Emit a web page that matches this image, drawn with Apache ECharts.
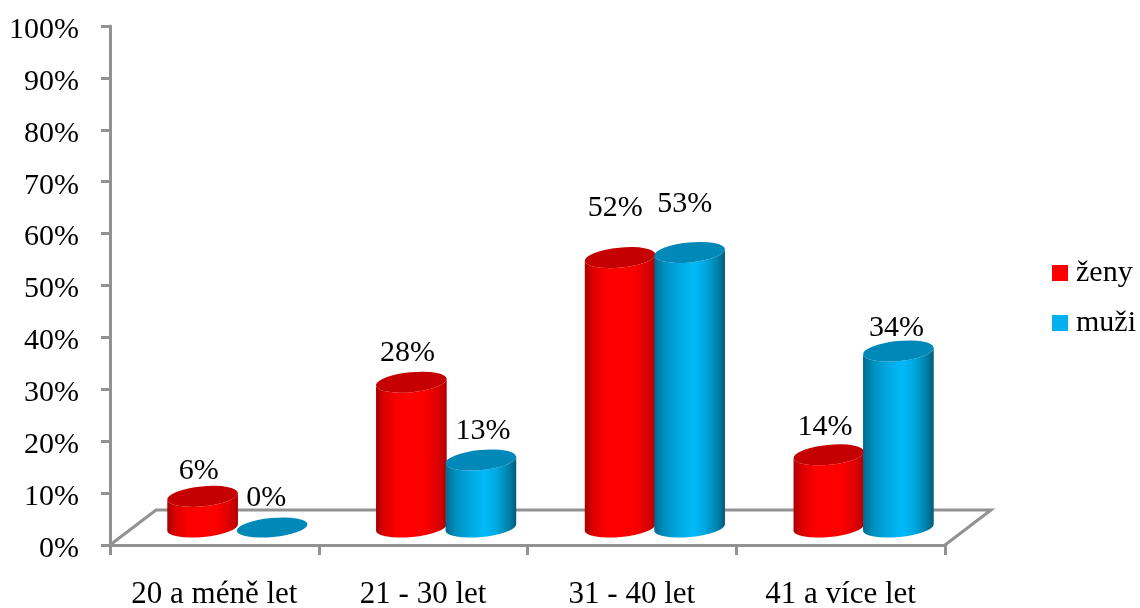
<!DOCTYPE html>
<html>
<head>
<meta charset="utf-8">
<style>html,body{margin:0;padding:0;background:#fff}#chart{width:1140px;height:608px}</style>
<script src="https://cdn.jsdelivr.net/npm/echarts@6/dist/echarts.min.js"></script>
</head>
<body>
<div id="chart"></div>
<script>
// Age groups of women and men, drawn as cylinders standing on a tilted floor.
const categories = ['20 a méně let', '21 - 30 let', '31 - 40 let', '41 a více let'];
const zeny = [6, 28, 52, 14];
const muzi = [0, 13, 53, 34];

// Hand placement of each value label relative to its cylinder top: [dx, dy].
const zenyLabelNudge = [[-4, -25], [-4, -29], [-5, -49], [-4, -28]];
const muziLabelNudge = [[-6, -29], [2, -29], [-5, -48], [-2, -23]];

const FONT = '"Liberation Serif", "Times New Roman", serif';
const AXIS_GREY = '#929292';
const AXIS_WIDTH = 3;
const DEPTH_X = 46, DEPTH_Y = -35;      // floor depth in pixels
const RX = 35.5, TILT = -5.5;           // cylinder cross-section ellipse
const RY_TOP = 10, RY_BASE = 9.5;       // the lid reads a little rounder than the foot
const BAR_SHIFT = 34.75;                // distance of a cylinder from the band centre

function gradient(stops) {
  return new echarts.graphic.LinearGradient(0, 0, 1, 0,
    stops.map(([offset, color]) => ({ offset, color })));
}

const redBody = gradient([[0, '#a80000'], [0.12, '#dc0000'], [0.3, '#fb0000'], [0.45, '#ff0000'], [0.7, '#fb0000'], [0.9, '#d60000'], [1, '#b00000']]);
const blueBody = gradient([[0, '#006a90'], [0.15, '#0090c0'], [0.35, '#00a8e2'], [0.55, '#00bafa'], [0.72, '#00a8e0'], [0.9, '#007ea8'], [1, '#005a7a']]);

function cylinderItem(labels, side, bodyFill, topFill) {
  return function (params, api) {
    const idx = params.dataIndex;
    const value = api.value(1);
    const top = api.coord([api.value(0), value]);
    const base = api.coord([api.value(0), 0]);
    const cx = top[0] + DEPTH_X / 2 + side * BAR_SHIFT;
    const yTop = top[1] + DEPTH_Y / 2;
    const yBase = base[1] + DEPTH_Y / 2;
    const t = TILT * Math.PI / 180;
    const ex = RX * Math.cos(t), ey = RX * Math.sin(t);
    const lidRy = value > 0 ? RY_TOP : RY_BASE;
    const lid = `M${cx - ex} ${yTop - ey}A${RX} ${lidRy} ${TILT} 1 1 ${cx + ex} ${yTop + ey}` +
      `A${RX} ${lidRy} ${TILT} 1 1 ${cx - ex} ${yTop - ey}Z`;
    const children = [];
    if (value > 0) {
      children.push({
        type: 'path',
        shape: {
          pathData:
            `M${cx - ex} ${yTop - ey}L${cx - ex} ${yBase - ey}` +
            `A${RX} ${RY_BASE} ${TILT} 0 0 ${cx + ex} ${yBase + ey}` +
            `L${cx + ex} ${yTop + ey}` +
            `A${RX} ${lidRy} ${TILT} 0 1 ${cx - ex} ${yTop - ey}Z`
        },
        style: { fill: bodyFill }
      });
    }
    children.push({ type: 'path', shape: { pathData: lid }, style: { fill: topFill } });
    children.push({
      type: 'text',
      z2: 10,
      style: {
        text: value + '%',
        x: cx + labels[idx][0],
        y: yTop + labels[idx][1],
        align: 'center',
        verticalAlign: 'middle',
        fill: '#000',
        font: '30px ' + FONT
      }
    });
    return { type: 'group', children };
  };
}

function floorItem(params) {
  const c = params.coordSys;
  const x0 = c.x, x1 = c.x + c.width, y = c.y + c.height;
  return {
    type: 'polyline',
    shape: { points: [[x0, y], [x0 + DEPTH_X, y + DEPTH_Y], [x1 + DEPTH_X, y + DEPTH_Y], [x1, y]] },
    style: { fill: null, stroke: AXIS_GREY, lineWidth: AXIS_WIDTH }
  };
}

const chart = echarts.init(document.getElementById('chart'), null, { renderer: 'canvas' });
chart.setOption({
  animation: false,
  backgroundColor: '#fff',
  textStyle: { fontFamily: FONT },
  grid: { left: 110, top: 26, width: 835, height: 519, containLabel: false, outerBoundsMode: 'none' },
  legend: {
    data: ['ženy', 'muži'],
    orient: 'vertical',
    left: 1052,
    top: 258,
    padding: 0,
    icon: 'rect',
    itemWidth: 16,
    itemHeight: 16,
    itemGap: 20,
    textStyle: { fontFamily: FONT, fontSize: 30, color: '#000', padding: [2, 0, 0, 3] },
    selectedMode: false
  },
  xAxis: {
    type: 'category',
    data: categories,
    axisLine: { lineStyle: { color: AXIS_GREY, width: AXIS_WIDTH } },
    axisTick: { show: true, length: 10, lineStyle: { color: AXIS_GREY, width: AXIS_WIDTH } },
    axisLabel: { color: '#000', fontFamily: FONT, fontSize: 31, margin: 34, interval: 0 }
  },
  yAxis: {
    type: 'value',
    min: 0,
    max: 100,
    interval: 10,
    splitLine: { show: false },
    axisLine: { show: true, lineStyle: { color: AXIS_GREY, width: AXIS_WIDTH } },
    axisTick: { show: true, length: 9, lineStyle: { color: AXIS_GREY, width: AXIS_WIDTH } },
    axisLabel: { color: '#000', fontFamily: FONT, fontSize: 30, margin: 31, verticalAlign: 'top', lineHeight: 8, formatter: '{value}%' }
  },
  series: [
    { type: 'custom', name: 'podlaha', z: 1, silent: true, clip: false, data: [[0, 0]], encode: { x: 0, y: 1 }, renderItem: floorItem },
    {
      type: 'custom', name: 'ženy', z: 2, clip: false, itemStyle: { color: '#ff0000' },
      data: zeny.map((v, i) => [i, v]), encode: { x: 0, y: 1 },
      renderItem: cylinderItem(zenyLabelNudge, -1, redBody, '#c40000')
    },
    {
      type: 'custom', name: 'muži', z: 3, clip: false, itemStyle: { color: '#00b0f0' },
      data: muzi.map((v, i) => [i, v]), encode: { x: 0, y: 1 },
      renderItem: cylinderItem(muziLabelNudge, 1, blueBody, '#0088b8')
    }
  ]
});
</script>
</body>
</html>
